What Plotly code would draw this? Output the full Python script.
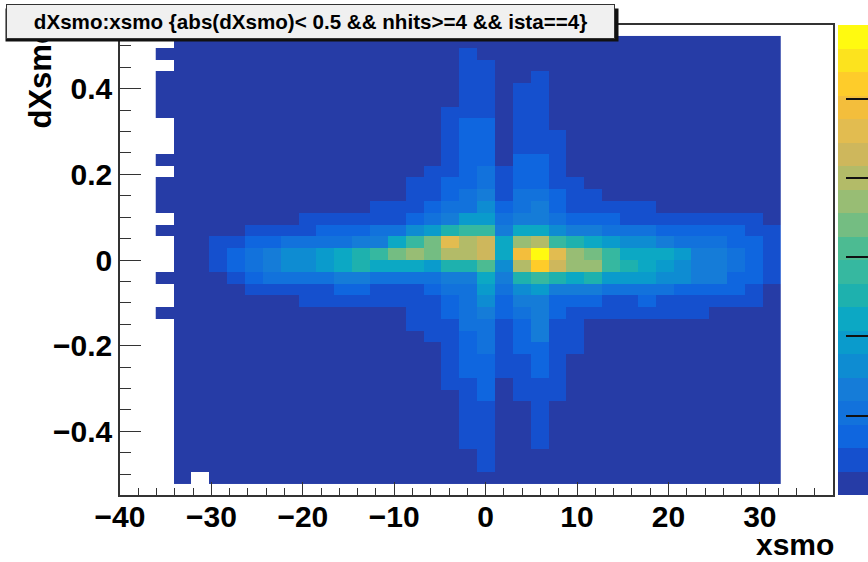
import plotly.graph_objects as go

W, H = 868, 562
L, R, T, B = 120, 833, 25, 495

# Histogram binning
X_START, X_WIDTH = -36.09, 1.952
Y_START, Y_WIDTH = -0.5235, 0.02755
Z_MAX = 593.0
Z_TICKS = [100, 200, 300, 400, 500]

# contour bands, bottom to top
band_colors = ["#263CA6", "#1550CE", "#0F66DF", "#1272DC", "#157CD8", "#0E8CD2", "#0A9BCC", "#0CA8C4",
               "#1EB1AE", "#36B8A0", "#4CBB92", "#74BD82", "#98BD74", "#B3BB68", "#CEB75C", "#E2BC50",
               "#F3BE3C", "#FECC2A", "#FCE31E", "#FFFA10"]

# Band index per cell, top row first ('.' = empty bin, 0-9 a-j = band 0-19)
band_rows = [
    ".000000000 0000000000 0000000000 00000",
    "0000000000 0000000100 0000000000 00000",
    ".000000000 0000000110 0000000000 00000",
    "0000000000 0000000110 0100000000 00000",
    "0000000000 0000000110 1100000000 00000",
    "0000000000 0000000110 1100000000 00000",
    "0000000000 0000001110 1100000000 00000",
    ".000000000 0000001220 1100000000 00000",
    ".000000000 0000001220 1110000000 00000",
    ".000000000 0000001220 1110000000 00000",
    "0000000000 0000001220 2210000000 00000",
    ".000000000 0000011231 2210000000 00000",
    "0000000000 0000112231 2211000000 00000",
    "0000000000 0000112341 3321100000 00000",
    "0000000000 0011123352 3421111100 00000",
    ".000000011 1111234663 4432221111 11110",
    "0000011112 2233568994 7754433322 22211",
    ".001122333 34479bfde7 cd98765543 33221",
    ".001234556 789bcbdde7 gjfcb97776 44321",
    ".001234556 78777688a5 dhecc98765 44321",
    "0000123333 4433334474 8987866655 44221",
    ".000011111 2211123363 5644433332 22210",
    ".000000011 1111112352 4422211211 11110",
    "0000000000 0000112342 3421111111 10000",
    ".000000000 0000111331 2411000000 00000",
    ".000000000 0000011231 2411000000 00000",
    ".000000000 0000001231 2211000000 00000",
    ".000000000 0000001221 1210000000 00000",
    ".000000000 0000001221 1210000000 00000",
    ".000000000 0000001120 1110000000 00000",
    ".000000000 0000000120 1110000000 00000",
    ".000000000 0000000110 0100000000 00000",
    ".000000000 0000000110 0100000000 00000",
    ".000000000 0000000110 0100000000 00000",
    ".000000000 0000000110 0100000000 00000",
    ".000000000 0000000010 0000000000 00000",
    ".000000000 0000000010 0000000000 00000",
    ".0.0000000 0000000000 0000000000 00000",
]

title_text = "dXsmo:xsmo {abs(dXsmo)&lt; 0.5 &amp;&amp; nhits&gt;=4 &amp;&amp; ista==4}"
x_title = "xsmo"
y_title = "dXsmo"

DIGITS = "0123456789abcdefghij"
BAND = Z_MAX / len(band_colors)
z = []
for row in reversed(band_rows):
    z.append([None if c == "." else (DIGITS.index(c) + 0.5) * BAND for c in row.replace(" ", "")])

scale = []
for i, c in enumerate(band_colors):
    scale += [[i / 20, c], [(i + 1) / 20, c]]


def px(x):
    return (x - L) / (R - L)


def py(y):
    return (B - y) / (B - T)


FONT = "Liberation Sans"
fig = go.Figure(go.Heatmap(
    z=z, x0=X_START + X_WIDTH / 2, dx=X_WIDTH, y0=Y_START + Y_WIDTH / 2, dy=Y_WIDTH,
    colorscale=scale, zmin=0, zmax=Z_MAX, hoverongaps=False,
    colorbar=dict(x=px(838), xanchor="left", xpad=0, y=0.5, yanchor="middle", ypad=0, len=1, lenmode="fraction",
                  thickness=30, outlinewidth=0, tickmode="array", tickvals=Z_TICKS, ticks="inside", ticklen=22,
                  tickcolor="#111111", tickwidth=1.5, showticklabels=False),
))

axis = dict(showgrid=False, zeroline=False, showline=True, mirror=True, linecolor="#333333", linewidth=1.5,
            ticks="inside", tickcolor="#333333", tickwidth=1, layer="above traces",
            tickfont=dict(family=FONT, size=30, color="black", weight="bold"))
fig.update_xaxes(range=[-40, 38], tick0=-40, dtick=10, ticklen=13, ticklabelstandoff=-6,
                 minor=dict(ticks="inside", dtick=2, ticklen=7, tickcolor="#333333", tickwidth=1), **axis)
fig.update_yaxes(range=[-0.549, 0.549], tick0=-0.4, dtick=0.2, ticklen=21,
                 minor=dict(ticks="inside", dtick=0.05, ticklen=11, tickcolor="#333333", tickwidth=1), **axis)

fig.update_layout(
    width=W, height=H, paper_bgcolor="white", plot_bgcolor="white", showlegend=False,
    margin=dict(l=L, r=W - R, t=T, b=H - B, autoexpand=False),
    annotations=[
        dict(text=x_title, xref="paper", yref="paper", x=px(836), y=py(544), xanchor="right", yanchor="middle",
             showarrow=False, font=dict(family=FONT, size=30, color="black", weight="bold")),
        dict(text=y_title, xref="paper", yref="paper", x=px(40), y=py(131), xanchor="center", yanchor="bottom",
             textangle=-90, showarrow=False, font=dict(family=FONT, size=31, color="black", weight="bold")),
        dict(text=" ", xref="paper", yref="paper", x=px(5), y=py(8), xanchor="left", yanchor="top",
             width=612, height=32, bgcolor="#111111", showarrow=False, borderpad=0,
             font=dict(size=10)),
        dict(text=title_text, xref="paper", yref="paper", x=px(6), y=py(4), xanchor="left", yanchor="top",
             width=607, height=33, bgcolor="#F0F0F0", bordercolor="#333333", borderwidth=1, borderpad=0,
             showarrow=False, align="center", font=dict(family=FONT, size=20.6, color="black", weight="bold")),
    ],
)
fig.write_html("out.html", post_script="document.body.style.margin='0';", config=dict(displayModeBar=False))
